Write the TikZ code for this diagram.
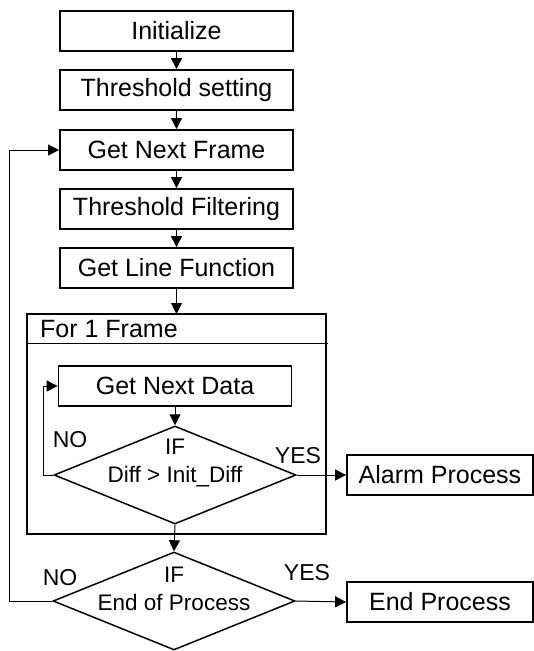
\documentclass[tikz,border=0pt]{standalone}
\usepackage{fontspec}
\setmainfont{Liberation Sans}
\usetikzlibrary{shapes.geometric,arrows.meta}
\begin{document}
\begin{tikzpicture}[x=1pt,y=-1pt,
 box/.style={draw,line width=1.8pt,minimum width=233pt,minimum height=40pt,inner sep=0pt,font=\fontsize{25}{30}\selectfont},
 outbox/.style={box,minimum width=186pt},
 dec/.style={draw,diamond,line width=1.5pt,minimum width=242pt,minimum height=98pt,inner sep=0pt,aspect=2.47},
 dtext/.style={align=center,font=\fontsize{22.5}{28}\selectfont,inner sep=0pt},
 lab/.style={font=\fontsize{23}{28}\selectfont,inner sep=0pt},
 arr/.style={line width=1pt,-{Triangle[length=11pt,width=11pt]}},
 ln/.style={line width=1pt}]
\useasboundingbox (0,0) rectangle (534,651);

\node[box] (init) at (176.5,31) {Initialize};
\node[box] (thr) at (176.5,90) {Threshold setting};
\node[box] (gnf) at (176.5,150) {Get Next Frame};
\node[box] (tf) at (176.5,209) {Threshold Filtering};
\node[box] (glf) at (176.5,268) {Get Line Function};

\draw[line width=1.8pt] (27,314) rectangle (326,534);
\coordinate (frtop) at (176.5,314);
\draw[ln] (27,343) -- (328,343);
\node[anchor=west,inner sep=0pt,font=\fontsize{25}{30}\selectfont] (ftitle) at (40,329) {For 1 Frame};

\node[box] (gnd) at (175,386) {Get Next Data};
\node[dec] (d1) at (175,475) {};
\node[dtext] (d1t) at (175,463) {IF\\Diff > Init\_Diff};
\node[dec] (d2) at (174,601) {};
\node[dtext] (d2t) at (174,589) {IF\\End of Process};

\node[outbox] (alarm) at (440,475) {Alarm Process};
\node[outbox] (endp) at (440,602) {End Process};

\node[lab] (no1) at (70,440) {NO};
\node[lab] (yes1) at (298,456) {YES};
\node[lab] (no2) at (60,578) {NO};
\node[lab] (yes2) at (307,573) {YES};

\draw[arr] (init) -- (thr);
\draw[arr] (thr) -- (gnf);
\draw[arr] (gnf) -- (tf);
\draw[arr] (tf) -- (glf);
\draw[arr] (glf) -- (frtop);
\draw[arr] (gnd) -- (d1);
\draw[arr] (d1.south) -- (d2.north);
\draw[arr] (d1.east) -- (alarm.west);
\draw[arr] (d2.east) -- (endp.west);
\coordinate (l1) at (43,475);
\coordinate (l2) at (9,601);
\draw[arr] (d1.west) -- (l1) |- (gnd.west);
\draw[arr] (d2.west) -- (l2) |- (gnf.west);
\end{tikzpicture}
\end{document}
